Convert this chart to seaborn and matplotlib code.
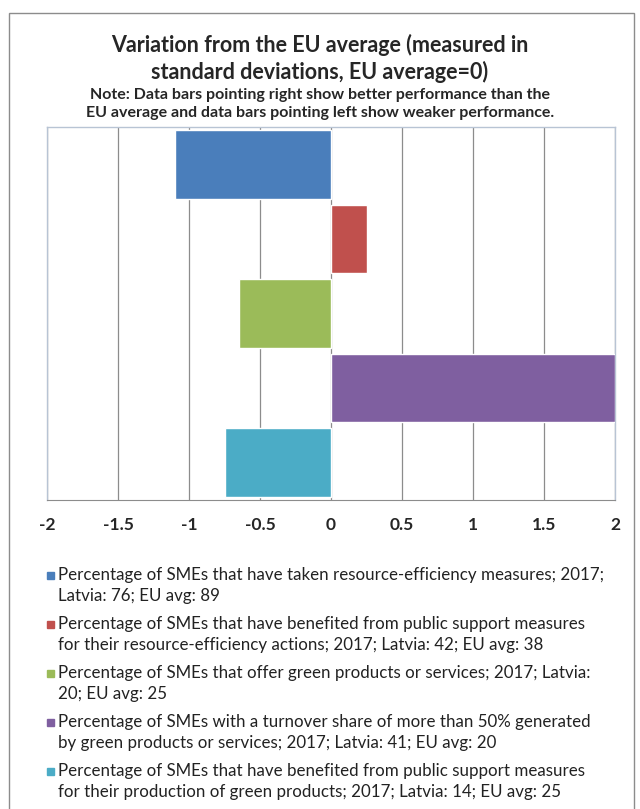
import pandas as pd
import seaborn as sns
import matplotlib.pyplot as plt
from matplotlib.patches import Rectangle

# data (standard deviations from EU average)
indicators = ["Resource-efficiency measures",
              "Public support for resource-efficiency",
              "Green products or services",
              "Turnover >50% from green products",
              "Public support for green products"]
deviation = [-1.1, 0.25, -0.65, 2.0, -0.75]
bar_colors = ["#4A7EBB", "#C0504D", "#9BBB59", "#7F5FA0", "#4BACC6"]
legend_labels = [
    "Percentage of SMEs that have taken resource-efficiency measures; 2017;\nLatvia: 76; EU avg: 89",
    "Percentage of SMEs that have benefited from public support measures\nfor their resource-efficiency actions; 2017; Latvia: 42; EU avg: 38",
    "Percentage of SMEs that offer green products or services; 2017; Latvia:\n20; EU avg: 25",
    "Percentage of SMEs with a turnover share of more than 50% generated\nby green products or services; 2017; Latvia: 41; EU avg: 20",
    "Percentage of SMEs that have benefited from public support measures\nfor their production of green products; 2017; Latvia: 14; EU avg: 25",
]
xticks = [-2, -1.5, -1, -0.5, 0, 0.5, 1, 1.5, 2]

df = pd.DataFrame({"indicator": indicators, "deviation": deviation})

sns.set_style("white")
plt.rcParams["font.family"] = ["Lato", "DejaVu Sans"]

W, H = 640, 809
fig = plt.figure(figsize=(6.4, 8.09), dpi=100)
ax = fig.add_axes([47 / W, 1 - 500 / H, (615 - 47) / W, (500 - 127) / H])

sns.barplot(data=df, x="deviation", y="indicator", hue="indicator",
            palette=bar_colors, orient="h", width=0.92, saturation=1,
            legend=False, ax=ax, zorder=3)

ax.set_xlim(-2, 2)
ax.set_xticks(xticks)
ax.set_xticklabels([f"{t:g}" for t in xticks], fontsize=12.5, fontweight="bold")
ax.set_yticks([])
ax.set_xlabel("")
ax.set_ylabel("")
ax.grid(axis="x", color="#8C8C8C", linewidth=0.9, zorder=0)
ax.set_axisbelow(True)
for side in ["top", "right", "left"]:
    ax.spines[side].set_color("#B8C4D4")
    ax.spines[side].set_linewidth(1)
ax.spines["bottom"].set_color("#8C8C8C")
ax.tick_params(axis="x", direction="out", length=5, color="#8C8C8C", pad=7)

# titles
fig.text(0.5, 1 - 45 / H, "Variation from the EU average (measured in",
         ha="center", va="center", fontsize=15.5, fontweight="bold")
fig.text(0.5, 1 - 72 / H, "standard deviations, EU average=0)",
         ha="center", va="center", fontsize=15.5, fontweight="bold")
fig.text(0.5, 1 - 95 / H, "Note: Data bars pointing right show better performance than the",
         ha="center", va="center", fontsize=11.5, fontweight="bold")
fig.text(0.5, 1 - 113 / H, "EU average and data bars pointing left show weaker performance.",
         ha="center", va="center", fontsize=11.5, fontweight="bold")

# legend below the chart
y0, entry_gap, line_gap = 575, 49, 21
for i, (lab, col) in enumerate(zip(legend_labels, bar_colors)):
    y = y0 + i * entry_gap
    fig.patches.append(Rectangle((47 / W, 1 - (y + 3.5) / H), 7 / W, 7 / H,
                                 transform=fig.transFigure, color=col))
    for j, line in enumerate(lab.split("\n")):
        fig.text(58 / W, 1 - (y + j * line_gap) / H, line,
                 ha="left", va="center", fontsize=12.2, color="#222222")

# outer frame
fig.patches.append(Rectangle((9 / W, -0.01), (634 - 9) / W, 1 - 13 / H + 0.01,
                             transform=fig.transFigure, fill=False,
                             edgecolor="#8C8C8C", linewidth=1))

fig.savefig("out.png", dpi=100)
